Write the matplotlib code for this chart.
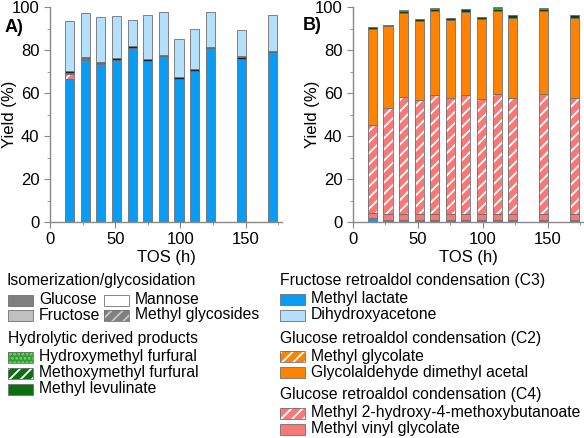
import numpy as np
import matplotlib
matplotlib.use("Agg")
import matplotlib.pyplot as plt
from matplotlib.patches import Rectangle
from matplotlib.ticker import MultipleLocator

plt.rcParams['font.family'] = ['Liberation Sans', 'DejaVu Sans']
plt.rcParams['hatch.linewidth'] = 1.3

# time on stream (h)
tos = [15, 27, 39, 51, 63, 75, 87, 99, 111, 123, 147, 171]

# Panel A (yields, %)
a_ml = [66.5, 75.3, 73.3, 75.3, 81.0, 75.0, 77.0, 66.7, 70.3, 80.7, 76.0, 79.0]
a_mvg = [0.5, 0.3, 0.2, 0, 0, 0, 0, 0, 0, 0, 0, 0]
a_mmhb = [2.5, 0.5, 0.3, 0, 0, 0, 0, 0, 0, 0, 0, 0]
a_glu = [0.8, 0.7, 0.7, 0.8, 0.8, 0.7, 0.8, 0.7, 0.8, 0.8, 0.6, 0.7]
a_mlev = [0, 0, 0, 0, 0, 0, 0, 0, 0, 0, 0.6, 0]
a_dha = [23.2, 20.5, 21.0, 19.7, 12.2, 20.6, 20.0, 17.6, 18.7, 16.3, 12.3, 16.6]

# Panel B (yields, %)
b_ml = [1.8, 0.8, 0.8, 0.8, 0.8, 0.8, 0.8, 0.8, 0.8, 0.8, 0.8, 0.8]
b_mvg = [2.2, 2.7, 2.7, 2.7, 2.7, 2.7, 2.7, 2.7, 2.7, 2.7, 2.7, 2.7]
b_mmhb = [41.0, 49.7, 54.5, 53.1, 55.5, 54.0, 55.8, 53.9, 56.1, 54.3, 56.1, 54.3]
b_gadma = [44.7, 38.0, 39.0, 36.9, 39.2, 36.5, 38.5, 36.8, 38.7, 37.2, 38.7, 37.2]
b_mlev = [0.9, 0.6, 1.2, 1.0, 1.0, 1.0, 1.2, 1.1, 1.0, 1.1, 1.0, 1.1]
b_mmf = [0, 0, 0.3, 0, 0.5, 0, 0.3, 0.2, 0.7, 0.2, 0.4, 0.2]

c_ml = '#0a9bf5'
c_dha = '#b5e0fb'
c_org = '#ff8300'
c_red = '#f87878'
c_dgreen = '#0d6e12'
c_green = '#2e9e2e'
c_glu = '#808080'
c_fru = '#c0c0c0'
edge = '#707070'

fig = plt.figure(figsize=(5.84, 4.38), dpi=100)
W, H = 584, 438


def stack(ax, layers):
    bottom = np.zeros(len(tos))
    for vals, fc, hatch in layers:
        vals = np.array(vals, dtype=float)
        if hatch:
            ax.bar(tos, vals, width=7, bottom=bottom, color=fc, edgecolor='white',
                   hatch=hatch, linewidth=0)
            ax.bar(tos, vals, width=7, bottom=bottom, color='none', edgecolor=edge,
                   linewidth=0.6)
        else:
            ax.bar(tos, vals, width=7, bottom=bottom, color=fc, edgecolor=edge,
                   linewidth=0.6)
        bottom += vals


def style(ax, axw, lab_right):
    ax.set_xlim(0, 178)
    ax.set_ylim(0, 100)
    ax.xaxis.set_major_locator(MultipleLocator(50))
    ax.xaxis.set_minor_locator(MultipleLocator(25))
    ax.yaxis.set_major_locator(MultipleLocator(20))
    ax.yaxis.set_minor_locator(MultipleLocator(10))
    for s in ['top', 'right']:
        ax.spines[s].set_visible(False)
    for s in ['left', 'bottom']:
        ax.spines[s].set_color('#888888')
        ax.spines[s].set_linewidth(1.0)
    ax.tick_params(which='both', colors='#888888', labelcolor='black', labelsize=12)
    ax.tick_params(which='major', length=4)
    ax.tick_params(which='minor', length=2.5)
    ax.set_xlabel('TOS (h)', fontsize=12, labelpad=2)
    ax.set_ylabel('Yield (%)', fontsize=12)
    # label anchor = right edge of the rotated text
    ax.yaxis.set_label_coords(-lab_right / axw, 0.5)


axA = fig.add_axes([50 / W, 1 - 222 / H, 232 / W, 215 / H])
stack(axA, [(a_ml, c_ml, None), (a_mmhb, c_red, '///'), (a_mvg, c_red, None),
            (a_glu, '#222222', None), (a_mlev, c_green, None), (a_dha, c_dha, None)])
style(axA, 232, 33)

axB = fig.add_axes([353 / W, 1 - 222 / H, 231 / W, 215 / H])
stack(axB, [(b_ml, c_ml, None), (b_mvg, c_red, None), (b_mmhb, c_red, '///'),
            (b_gadma, c_org, None), (b_mlev, '#10401a', None), (b_mmf, c_green, None)])
style(axB, 231, 33)

fig.text(5 / W, 1 - 28 / H, 'A)', fontsize=13, fontweight='bold', va='center')
fig.text(303 / W, 1 - 25 / H, 'B)', fontsize=13, fontweight='bold', va='center')

# legend drawn by hand
fs = 11.3


def item(x, y, label, fc, hatch=None, hcol='white'):
    box = ((x / W, 1 - (y + 5.5) / H), 25 / W, 11 / H)
    if hatch:
        fig.add_artist(Rectangle(*box, transform=fig.transFigure, facecolor=fc,
                                 edgecolor=hcol, hatch=hatch, linewidth=0))
        fig.add_artist(Rectangle(*box, transform=fig.transFigure, facecolor='none',
                                 edgecolor=edge, linewidth=0.6))
    else:
        fig.add_artist(Rectangle(*box, transform=fig.transFigure, facecolor=fc,
                                 edgecolor=edge, linewidth=0.6))
    fig.text((x + 31) / W, 1 - y / H, label, fontsize=fs, va='center')


def header(x, y, label):
    fig.text(x / W, 1 - y / H, label, fontsize=fs, va='center')


header(7, 280, 'Isomerization/glycosidation')
item(8, 300, 'Glucose', c_glu)
item(8, 315, 'Fructose', c_fru)
item(104, 300, 'Mannose', 'white')
item(104, 315, 'Methyl glycosides', c_glu, '///', '#c8c8c8')
header(8, 338, 'Hydrolytic derived products')
item(8, 357, 'Hydroxymethyl furfural', c_green, '....', '#7fcf7f')
item(8, 373, 'Methoxymethyl furfural', c_dgreen, '///')
item(8, 389, 'Methyl levulinate', c_dgreen)

header(280, 280, 'Fructose retroaldol condensation (C3)')
item(280, 299, 'Methyl lactate', c_ml)
item(280, 315, 'Dihydroxyacetone', c_dha)
header(280, 338, 'Glucose retroaldol condensation (C2)')
item(280, 356, 'Methyl glycolate', c_org, '///')
item(280, 372, 'Glycolaldehyde dimethyl acetal', c_org)
header(280, 394, 'Glucose retroaldol condensation (C4)')
item(280, 413, 'Methyl 2-hydroxy-4-methoxybutanoate', c_red, '///')
item(280, 429, 'Methyl vinyl glycolate', c_red)

fig.savefig('out.png', dpi=100)
